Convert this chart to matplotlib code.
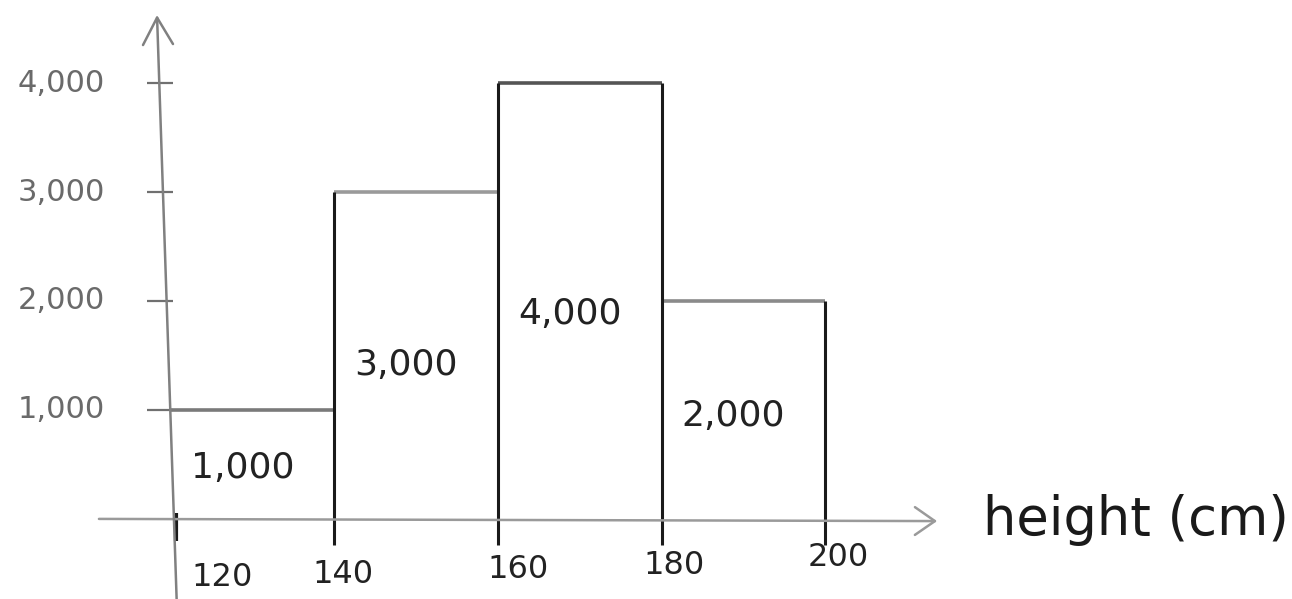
import matplotlib
matplotlib.use("Agg")
import matplotlib.pyplot as plt
import numpy as np

# histogram of heights (sketch)
bin_edges = [120, 140, 160, 180, 200]
counts = [1000, 3000, 4000, 2000]
y_ticks = [1000, 2000, 3000, 4000]
x_label = "height (cm)"

# small layout nudges (pixels) to mimic the hand lettering under the axis
x_label_dx = [51, 9, 20, 13, 13]
x_label_dy = [59, 56, 51, 47, 39]

fig = plt.figure(figsize=(12.92, 5.99), dpi=100, facecolor="white")
ax = fig.add_axes([0, 0, 1, 1])
ax.set_xlim(99.1, 257.1)
ax.set_ylim(-735, 4762)
ax.axis("off")

edges = np.array(bin_edges)
vals = np.array(counts)

# x axis with open arrow head
ax.annotate("", xy=(213.7, -20), xytext=(111.2, 0),
            arrowprops=dict(arrowstyle="->,head_length=0.72,head_width=0.5",
                            mutation_scale=20, lw=1.8, color="#9a9a9a",
                            shrinkA=0, shrinkB=0))
# y axis (slightly slanted, like the drawing)
ax.annotate("", xy=(118.3, 4624), xytext=(120.7, -735),
            arrowprops=dict(arrowstyle="->,head_length=0.97,head_width=0.54",
                            mutation_scale=20, lw=1.8, color="#808080",
                            shrinkA=0, shrinkB=0))

# y ticks + labels
ax.hlines(y_ticks, 117.1, 120.3, color="#707070", lw=1.6)
for v in y_ticks:
    ax.annotate(f"{v:,}", xy=(120, v), xytext=(-66, 0), textcoords="offset pixels",
                ha="right", va="center", fontsize=22, color="#6a6a6a")

# bar tops
top_colors = ["#7a7a7a", "#9a9a9a", "#555555", "#8a8a8a"]
ax.hlines(vals, edges[:-1], edges[1:], colors=top_colors, lw=2.6)

# vertical edges, running a bit below the x axis like tick marks
left_h = np.r_[0, vals]
right_h = np.r_[vals, 0]
edge_top = np.maximum(left_h, right_h)
ax.vlines(edges[1:], -240, edge_top[1:], color="#1a1a1a", lw=2.2)
ax.vlines(edges[0] + 0.6, -200, 50, color="#1a1a1a", lw=3)

# x tick labels
for e, dx, dy in zip(bin_edges, x_label_dx, x_label_dy):
    ax.annotate(str(e), xy=(e, 0), xytext=(dx, -dy), textcoords="offset pixels",
                ha="center", va="center", fontsize=23, color="#222222")

# counts written inside each bar
centers = (edges[:-1] + edges[1:]) / 2
for c, v in zip(centers, vals):
    ax.annotate(f"{v:,}", xy=(c, v * 0.47), xytext=(-10, 0), textcoords="offset pixels",
                ha="center", va="center", fontsize=26, color="#222222")

# axis label after the arrow
ax.annotate(x_label, xy=(213.7, 0), xytext=(46, -16), textcoords="offset pixels",
            ha="left", va="baseline", fontsize=38, color="#1a1a1a")

fig.savefig("out.png", dpi=100, facecolor="white")
